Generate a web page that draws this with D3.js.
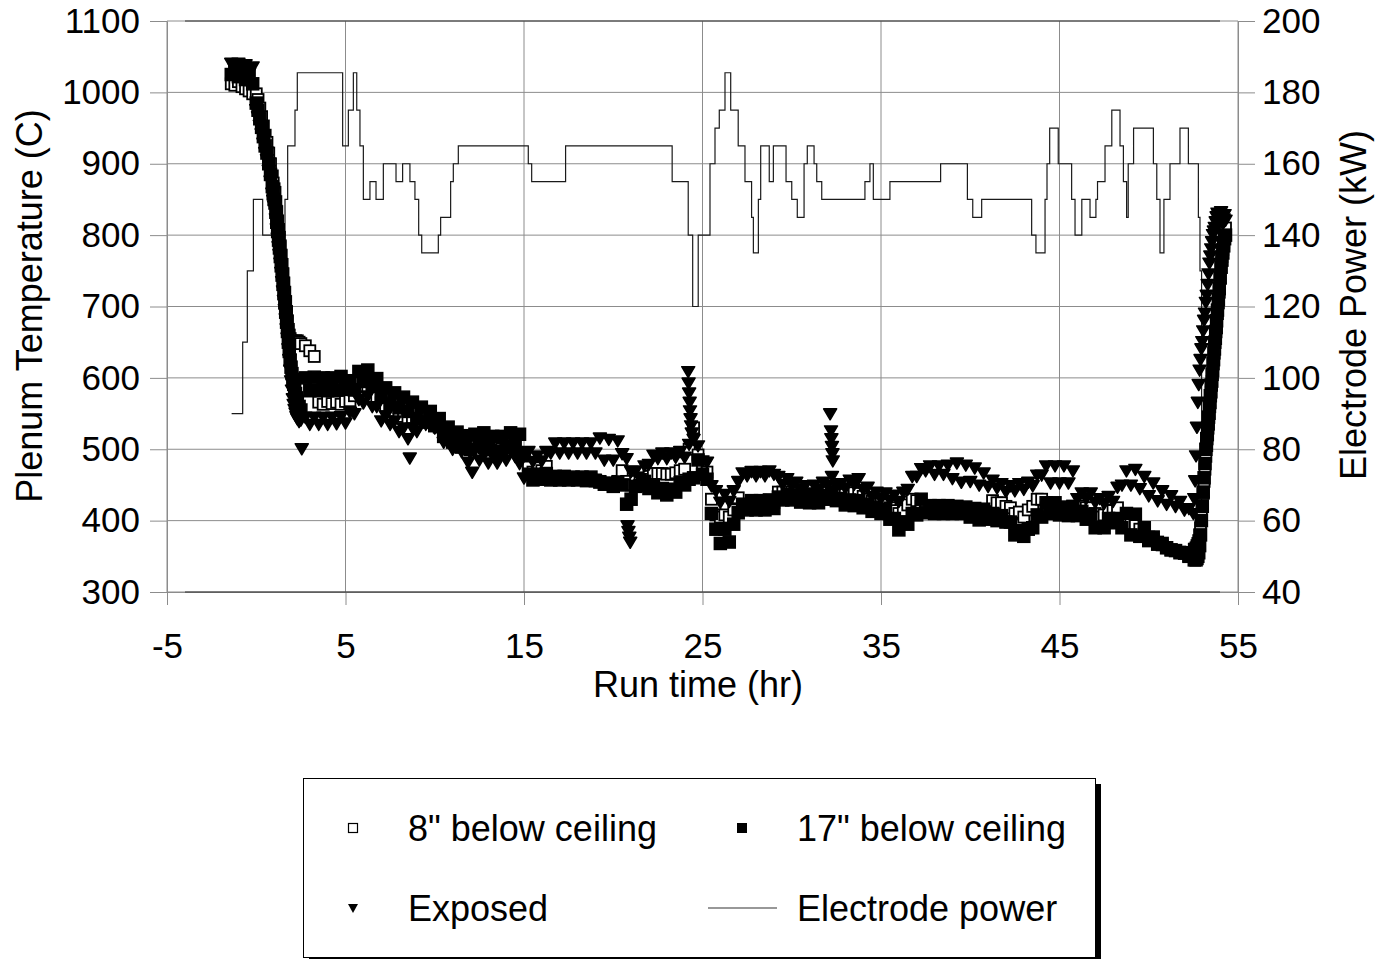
<!DOCTYPE html>
<html>
<head>
<meta charset="utf-8">
<script src="https://cdn.jsdelivr.net/npm/d3@7/dist/d3.min.js"></script>
<style>
  body { margin: 0; background: #fff; }
  svg { display: block; font-family: Arial, 'Liberation Sans', sans-serif; }
</style>
</head>
<body>
<svg id="chart" width="1382" height="959"></svg>
<script>
// run time (hr), shared by the three thermocouple series
const runHours = [
  -1.4, -1.2, -1, -0.8, -0.6, -0.4, -0.2,
  0, 0.1, 0.2, 0.3, 0.4, 0.5, 0.6, 0.7, 0.8, 0.9,
  0.95, 1, 1.05, 1.1, 1.15, 1.2, 1.25, 1.3, 1.35, 1.4,
  1.45, 1.5, 1.55, 1.6, 1.65, 1.7, 1.75, 1.8, 1.85, 1.9,
  1.95, 2, 2.05, 2.1, 2.15, 2.2, 2.25, 2.3, 2.4, 2.5,
  2.75, 3, 3.25, 3.5, 3.75, 4, 4.25, 4.5, 4.75, 5,
  5.25, 5.5, 5.75, 6, 6.25, 6.5, 6.75, 7, 7.25, 7.5,
  7.75, 8, 8.25, 8.5, 8.75, 9, 9.25, 9.5, 9.75, 10,
  10.25, 10.5, 10.75, 11, 11.25, 11.5, 11.75, 12, 12.25, 12.5,
  12.75, 13, 13.25, 13.5, 13.75, 14, 14.25, 14.5, 14.75, 15,
  15.25, 15.5, 15.75, 16, 16.25, 16.5, 16.75, 17, 17.25, 17.5,
  17.75, 18, 18.25, 18.5, 18.75, 19, 19.25, 19.5, 19.75, 20,
  20.25, 20.5, 20.75, 21, 21.25, 21.5, 21.75, 22, 22.25, 22.5,
  22.75, 23, 23.25, 23.5, 23.75, 24, 24.25, 24.5, 24.75, 25,
  25.25, 25.5, 25.75, 26, 26.25, 26.5, 26.75, 27, 27.25, 27.5,
  27.75, 28, 28.25, 28.5, 28.75, 29, 29.25, 29.5, 29.75, 30,
  30.25, 30.5, 30.75, 31, 31.25, 31.5, 31.75, 32, 32.25, 32.5,
  32.75, 33, 33.25, 33.5, 33.75, 34, 34.25, 34.5, 34.75, 35,
  35.25, 35.5, 35.75, 36, 36.25, 36.5, 36.75, 37, 37.25, 37.5,
  37.75, 38, 38.25, 38.5, 38.75, 39, 39.25, 39.5, 39.75, 40,
  40.25, 40.5, 40.75, 41, 41.25, 41.5, 41.75, 42, 42.25, 42.5,
  42.75, 43, 43.25, 43.5, 43.75, 44, 44.25, 44.5, 44.75, 45,
  45.25, 45.5, 45.75, 46, 46.25, 46.5, 46.75, 47, 47.25, 47.5,
  47.75, 48, 48.25, 48.5, 48.75, 49, 49.25, 49.5, 49.75, 50,
  50.25, 50.5, 50.75, 51, 51.25, 51.5, 51.75, 52, 52.25, 52.5,
  52.55, 52.6, 52.65, 52.7, 52.75, 52.8, 52.85, 52.9, 52.95, 53,
  53.05, 53.1, 53.15, 53.2, 53.25, 53.3, 53.35, 53.4, 53.45, 53.5,
  53.55, 53.6, 53.65, 53.7, 53.75, 53.8, 53.85, 53.9, 53.95, 54,
  54.05, 54.1, 54.15, 54.2, 54.25, 54.3
];

// 8" below ceiling (C)
const temp8 = [
  1012, 1010, 1015, 1008, 1005, 1002, 998,
  998, 990, 978, 966, 953, 940, 930, 915, 900, 883,
  873, 865, 860, 847, 833, 820, 808, 797, 785, 772,
  759, 746, 733, 720, 707, 693, 680, 668, 660, 655,
  652, 650, 650, 648, 650, 652, 650, 652, 650, 648,
  645, 638, 630, 566, 563, 567, 564, 566, 563, 567,
  568, 575, 584, 588, 587, 582, 574, 565, 561, 557,
  554, 550, 546, 542, 542, 542, 544, 545, 542, 540,
  531, 522, 517, 513, 510, 508, 507, 506, 505, 504,
  502, 500, 499, 497, 500, 502, 505, 507, 495, 485,
  475, 468, 474, 470, 476, 460, 460, 459, 460, 459,
  459, 459, 458, 458, 457, 457, 455, 453, 452, 450,
  455, 470, 455, 450, 455, 456, 460, 462, 466, 466,
  466, 465, 465, 467, 470, 472, 500, 530, 492, 475,
  468, 430, 408, 405, 408, 405, 415, 432, 420, 420,
  422, 422, 423, 423, 424, 425, 440, 440, 445, 440,
  440, 436, 436, 434, 436, 437, 440, 442, 445, 440,
  436, 437, 438, 439, 438, 434, 430, 427, 424, 423,
  422, 418, 414, 410, 414, 422, 430, 428, 420, 420,
  416, 415, 416, 415, 416, 415, 415, 414, 413, 411,
  410, 408, 408, 408, 428, 425, 425, 420, 418, 410,
  412, 405, 415, 420, 430, 430, 418, 418, 418, 415,
  414, 414, 414, 418, 420, 418, 418, 410, 405, 408,
  415, 414, 418, 400, 398, 395, 393, 388, 382, 377,
  373, 370, 366, 362, 359, 358, 356, 354, 351, 351,
  360, 360, 362, 365, 368, 372, 380, 390, 405, 420,
  438, 455, 472, 490, 505, 520, 535, 550, 565, 580,
  595, 610, 625, 640, 655, 670, 690, 705, 720, 740,
  755, 770, 780, 790, 800, 810
];

// 17" below ceiling (C)
const temp17 = [
  1025, 1035, 1022, 1032, 1018, 1030, 1012,
  985, 975, 963, 951, 938, 925, 915, 900, 885, 868,
  858, 850, 845, 832, 818, 805, 793, 782, 770, 757,
  744, 731, 718, 705, 692, 678, 665, 650, 637, 625,
  615, 606, 598, 591, 584, 578, 572, 567, 560, 555,
  600, 582, 601, 583, 600, 582, 600, 583, 602, 585,
  596, 583, 609, 595, 611, 588, 599, 573, 586, 563,
  579, 558, 573, 553, 566, 543, 559, 538, 553, 533,
  543, 518, 531, 510, 524, 503, 519, 500, 521, 507,
  523, 503, 518, 497, 518, 503, 523, 507, 521, 493,
  465, 457, 465, 458, 466, 457, 462, 457, 462, 457,
  461, 457, 461, 456, 461, 456, 454, 451, 452, 448,
  453, 450, 423, 430, 448, 449, 455, 445, 450, 439,
  445, 436, 444, 440, 453, 450, 458, 460, 485, 465,
  458, 410, 388, 368, 388, 370, 395, 411, 423, 415,
  428, 415, 428, 415, 429, 417, 433, 429, 437, 429,
  436, 426, 433, 425, 433, 425, 435, 430, 438, 428,
  431, 422, 429, 421, 428, 418, 423, 413, 419, 410,
  416, 402, 403, 387, 398, 395, 410, 408, 430, 411,
  421, 410, 421, 410, 421, 410, 420, 410, 419, 405,
  417, 401, 416, 402, 410, 400, 407, 398, 398, 380,
  386, 378, 388, 390, 408, 405, 425, 410, 425, 408,
  419, 407, 420, 407, 413, 402, 409, 390, 391, 390,
  403, 397, 403, 390, 410, 380, 409, 378, 390, 372,
  377, 367, 368, 362, 359, 358, 355, 355, 350, 352,
  345, 346, 345, 347, 350, 355, 365, 380, 400, 420,
  440, 460, 480, 500, 515, 530, 545, 560, 575, 590,
  605, 620, 635, 650, 665, 680, 695, 710, 725, 740,
  755, 765, 775, 785, 795, 800
];

// Exposed (C)
const tempExposed = [
  1040, 1032, 1040, 1030, 1038, 1026, 1035,
  975, 965, 953, 941, 928, 915, 905, 890, 875, 858,
  848, 840, 835, 822, 808, 795, 783, 772, 760, 747,
  734, 721, 708, 695, 682, 668, 655, 640, 625, 610,
  595, 582, 570, 562, 555, 550, 545, 542, 538, 540,
  544, 534, 544, 534, 544, 534, 544, 535, 545, 536,
  551, 549, 569, 564, 574, 559, 559, 539, 546, 534,
  539, 524, 529, 514, 529, 524, 539, 534, 541, 529,
  529, 509, 514, 499, 507, 496, 505, 494, 499, 484,
  491, 480, 490, 480, 492, 484, 497, 489, 479, 459,
  496, 482, 490, 483, 496, 494, 508, 494, 508, 494,
  508, 494, 508, 494, 508, 494, 515, 484, 513, 484,
  511, 493, 486, 468, 469, 458, 476, 478, 491, 486,
  494, 486, 494, 488, 496, 488, 506, 513, 504, 483,
  481, 448, 441, 425, 436, 426, 441, 454, 466, 462,
  468, 462, 468, 462, 469, 464, 461, 450, 458, 448,
  453, 443, 448, 438, 449, 443, 453, 448, 461, 448,
  451, 445, 456, 450, 458, 443, 446, 433, 439, 430,
  438, 428, 435, 426, 439, 443, 461, 461, 472, 469,
  476, 464, 476, 464, 477, 458, 480, 453, 477, 454,
  473, 449, 466, 447, 456, 445, 451, 440, 448, 441,
  451, 443, 453, 448, 463, 463, 476, 452, 476, 452,
  476, 452, 469, 430, 438, 430, 438, 425, 430, 423,
  433, 426, 446, 449, 469, 449, 471, 444, 461, 434,
  452, 427, 441, 422, 434, 419, 426, 414, 416, 409,
  430, 455, 490, 530, 565, 590, 610, 625, 640, 650,
  665, 680, 690, 705, 715, 730, 745, 760, 770, 780,
  790, 800, 805, 810, 818, 825, 830, 828, 820, 826,
  832, 824, 815, 822, 828, 820
];

// Exposed thermocouple readings that stand apart from the band
const spikeHours = [2.55, 8.6, 11.87, 12.1,
  20.8, 20.85, 20.9, 20.95,
  24.2, 24.22, 24.25, 24.28, 24.3, 24.33, 24.36, 24.4,
  32.15, 32.2, 32.22, 32.25, 32.28, 32.3];
const spikeTemps = [500, 487, 481, 467,
  392, 384, 376, 369,
  608, 592, 578, 565, 553, 542, 532, 522,
  549, 525, 514, 503, 493, 483];

// electrode power, each value holds until the next hour listed
const powerHours = [-1.38, -0.76, -0.5, -0.16, 0.36, 1.61, 1.76, 2.17, 2.3, 4.84,
  5.16, 5.44, 5.63, 5.81, 6, 6.37, 6.71, 7.12, 7.83, 8.2,
  8.61, 8.89, 9.1, 9.27, 10.2, 10.33, 10.89, 11.04, 11.32, 15.24,
  15.43, 17.33, 23.3, 24.2, 24.45, 24.76, 25.42, 25.7, 25.94, 26.26,
  26.58, 27, 27.38, 27.75, 27.85, 28.13, 28.26, 28.74, 28.97, 29.68,
  30, 30.31, 30.69, 30.87, 31.25, 31.4, 31.68, 34.1, 34.38, 34.57,
  35.5, 38.34, 39.84, 40.14, 40.64, 43.44, 43.68, 44.19, 44.3, 44.45,
  44.93, 45.68, 45.87, 46.25, 46.71, 47.04, 47.13, 47.55, 47.93, 48.39,
  48.58, 48.76, 48.85, 49.15, 50.26, 50.45, 50.63, 50.85, 51.19, 51.75,
  52.22, 52.78, 52.87, 52.96, 53];
const powerKW = [90, 110, 130, 150, 140, 150, 165, 175, 185.5, 165,
  175, 185.5, 175, 165, 150, 155, 150, 160, 155, 160,
  155, 150, 140, 135, 140, 145, 155, 160, 165, 160,
  155, 165, 155, 140, 120, 140, 160, 170, 175, 185.5,
  175, 165, 155, 145, 135, 150, 165, 155, 165, 155,
  150, 145, 160, 165, 160, 155, 150, 155, 160, 150,
  155, 160, 150, 145, 150, 140, 135, 150, 160, 170,
  160, 150, 140, 150, 145, 150, 155, 165, 175, 165,
  155, 145, 160, 170, 160, 150, 135, 150, 160, 170,
  160, 145, 130, 60, 60];

const tempTicks = [300, 400, 500, 600, 700, 800, 900, 1000, 1100];
const powerTicks = [40, 60, 80, 100, 120, 140, 160, 180, 200];
const hourTicks = [-5, 5, 15, 25, 35, 45, 55];

const legendLabels = ['8" below ceiling', '17" below ceiling', 'Exposed', 'Electrode power'];

const svg = d3.select('#chart');
const plotLeft = 167, plotRight = 1238, plotTop = 21, plotBottom = 592;
const gridColor = '#8c8c8c';
const font = "Arial, 'Liberation Sans', sans-serif";
const plain = (d) => String(d).replace('\u2212', '-');

const x = d3.scaleLinear().domain([-5, 55]).range([plotLeft, plotRight]);
const yTemp = d3.scaleLinear().domain([300, 1100]).range([plotBottom, plotTop]);
const yPower = d3.scaleLinear().domain([40, 200]).range([plotBottom, plotTop]);

svg.append('rect').attr('width', 1382).attr('height', 959).attr('fill', '#fff');

// grid
svg.append('g')
  .selectAll('line')
  .data(tempTicks)
  .join('line')
  .attr('x1', plotLeft)
  .attr('x2', plotRight)
  .attr('y1', (d) => yTemp(d))
  .attr('y2', (d) => yTemp(d))
  .attr('stroke', gridColor);
svg.append('g')
  .selectAll('line')
  .data(hourTicks)
  .join('line')
  .attr('x1', (d) => x(d))
  .attr('x2', (d) => x(d))
  .attr('y1', plotTop)
  .attr('y2', plotBottom)
  .attr('stroke', gridColor);

function styleAxis(g) {
  g.attr('font-size', 35).attr('font-family', font);
  g.selectAll('line').attr('stroke', gridColor);
  g.select('.domain').attr('stroke', gridColor);
  g.selectAll('text').attr('fill', '#000');
}

svg.append('g')
  .attr('transform', `translate(${plotLeft},0)`)
  .call(d3.axisLeft(yTemp).tickValues(tempTicks).tickFormat(plain)
    .tickSize(17).tickSizeOuter(0).tickPadding(10))
  .call(styleAxis);
svg.append('g')
  .attr('transform', `translate(${plotRight},0)`)
  .call(d3.axisRight(yPower).tickValues(powerTicks).tickFormat(plain)
    .tickSize(17).tickSizeOuter(0).tickPadding(7))
  .call(styleAxis);
svg.append('g')
  .attr('transform', `translate(0,${plotBottom})`)
  .call(d3.axisBottom(x).tickValues(hourTicks).tickFormat(plain)
    .tickSize(13).tickSizeOuter(0).tickPadding(28))
  .call(styleAxis);

// darker frame along top and bottom
svg.append('g')
  .selectAll('line')
  .data([plotTop, plotBottom])
  .join('line')
  .attr('x1', 185)
  .attr('x2', 1220)
  .attr('y1', (d) => d)
  .attr('y2', (d) => d)
  .attr('stroke', '#333');

// electrode power (right axis)
const powerLine = d3.line()
  .x((d, i) => x(powerHours[i]))
  .y((d) => yPower(d))
  .curve(d3.curveStepAfter);
svg.append('path')
  .datum(powerKW)
  .attr('d', powerLine)
  .attr('fill', 'none')
  .attr('stroke', '#1a1a1a')
  .attr('stroke-width', 1.2);

// thermocouple markers
const pts = (temps) => runHours.map((h, i) => [h, temps[i]]);
const triangle = 'M-6.5,-5.5L6.5,-5.5L0,5.5Z';

svg.append('g')
  .selectAll('rect')
  .data(pts(temp8))
  .join('rect')
  .attr('x', (d) => x(d[0]) - 5.5)
  .attr('y', (d) => yTemp(d[1]) - 5.5)
  .attr('width', 11)
  .attr('height', 11)
  .attr('fill', '#fff')
  .attr('stroke', '#000')
  .attr('stroke-width', 1.8);

svg.append('g')
  .selectAll('rect')
  .data(pts(temp17))
  .join('rect')
  .attr('x', (d) => x(d[0]) - 6)
  .attr('y', (d) => yTemp(d[1]) - 6)
  .attr('width', 12)
  .attr('height', 12)
  .attr('fill', '#000')
  .attr('stroke', '#000')
  .attr('stroke-width', 1.5);

svg.append('g')
  .selectAll('path')
  .data(pts(tempExposed).concat(spikeHours.map((h, i) => [h, spikeTemps[i]])))
  .join('path')
  .attr('d', triangle)
  .attr('transform', (d) => `translate(${x(d[0])},${yTemp(d[1])})`)
  .attr('fill', '#000')
  .attr('stroke', '#000')
  .attr('stroke-width', 1.5)
  .attr('stroke-linejoin', 'round');

// axis titles
svg.append('text')
  .attr('transform', 'translate(42,306) rotate(-90)')
  .attr('text-anchor', 'middle')
  .attr('font-size', 36)
  .attr('font-family', font)
  .text('Plenum Temperature (C)');
svg.append('text')
  .attr('transform', 'translate(1366,305) rotate(-90)')
  .attr('text-anchor', 'middle')
  .attr('font-size', 36)
  .attr('font-family', font)
  .text('Electrode Power (kW)');
svg.append('text')
  .attr('x', 698)
  .attr('y', 697)
  .attr('text-anchor', 'middle')
  .attr('font-size', 36)
  .attr('font-family', font)
  .text('Run time (hr)');

// legend
const legend = svg.append('g');
legend.append('rect').attr('x', 309).attr('y', 784).attr('width', 792).attr('height', 179).attr('fill', '#000');
legend.append('rect')
  .attr('x', 303.5)
  .attr('y', 778.5)
  .attr('width', 792)
  .attr('height', 179)
  .attr('fill', '#fff')
  .attr('stroke', '#000');

const cols = [353, 742], rows = [828, 908];
const items = legend.selectAll('g.item')
  .data(legendLabels)
  .join('g')
  .attr('class', 'item')
  .attr('transform', (d, i) => `translate(${cols[i % 2]},${rows[Math.floor(i / 2)]})`);

items.append('text')
  .attr('x', 55)
  .attr('y', 13)
  .attr('font-size', 36)
  .attr('font-family', font)
  .text((d) => d);

items.each(function (d, i) {
  const g = d3.select(this);
  if (i === 0) {
    g.append('rect').attr('x', -4.5).attr('y', -4.5).attr('width', 9).attr('height', 9)
      .attr('fill', '#fff').attr('stroke', '#000').attr('stroke-width', 1.2);
  } else if (i === 1) {
    g.append('rect').attr('x', -5).attr('y', -5).attr('width', 10).attr('height', 10).attr('fill', '#000');
  } else if (i === 2) {
    g.append('path').attr('d', 'M-5,-4L5,-4L0,5Z').attr('fill', '#000');
  } else {
    g.append('line').attr('x1', -34).attr('x2', 35).attr('stroke', '#333').attr('stroke-width', 1.2);
  }
});
</script>
</body>
</html>
